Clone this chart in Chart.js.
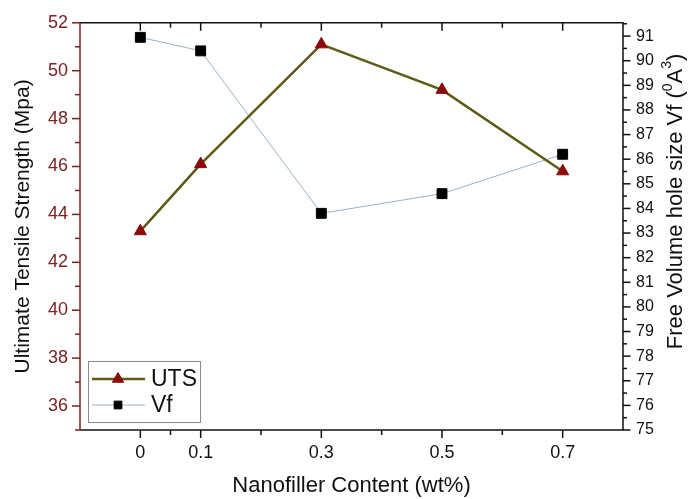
<!DOCTYPE html>
<html>
<head>
<meta charset="utf-8">
<script src="https://cdn.jsdelivr.net/npm/chart.js@4/dist/chart.umd.min.js"></script>
<style>
  html, body { margin: 0; padding: 0; background: #fff; }
  #wrap { width: 689px; height: 499px; }
</style>
</head>
<body>
<div id="wrap"><canvas id="chart" width="689" height="499"></canvas></div>
<script>
// values
const contentWt = [0, 0.1, 0.3, 0.5, 0.7];
const utsMpa = [43.3, 46.1, 51.1, 49.2, 45.8];
const vfHole = [90.95, 90.4, 83.8, 84.6, 86.2];

const xMajorTicks = [0, 0.1, 0.3, 0.5, 0.7];
const xMinorTicks = [0.05, 0.2, 0.4, 0.6];

const leftRed = '#7a2323';
const fontFamily = '"Liberation Sans", Arial, sans-serif';

function range(a, b, step) {
  const out = [];
  for (let v = a; v <= b + 1e-9; v += step) out.push(Math.round(v * 100) / 100);
  return out;
}

// frame, tick marks, right title and the legend box
const decorPlugin = {
  id: 'decor',
  afterDraw(chart) {
    const { ctx, chartArea: ca } = chart;
    const x = chart.scales.x, y = chart.scales.y, y1 = chart.scales.y1;
    ctx.save();
    ctx.lineWidth = 1.5;

    // ticks, x (bottom outward, top inward)
    ctx.strokeStyle = '#111';
    const xt = (vals, len) => vals.forEach(v => {
      const px = x.getPixelForValue(v);
      ctx.beginPath();
      ctx.moveTo(px, ca.bottom); ctx.lineTo(px, ca.bottom + len);
      ctx.moveTo(px, ca.top); ctx.lineTo(px, ca.top + len);
      ctx.stroke();
    });
    xt(xMajorTicks, 8);
    xt(xMinorTicks, 5);

    // right axis ticks
    range(75, 91.5, 0.5).forEach(v => {
      const py = y1.getPixelForValue(v);
      const len = Number.isInteger(v) ? 7.5 : 4;
      ctx.beginPath();
      ctx.moveTo(ca.right, py); ctx.lineTo(ca.right + len, py);
      ctx.stroke();
    });

    // frame
    ctx.beginPath();
    ctx.moveTo(ca.left, ca.top); ctx.lineTo(ca.right, ca.top);
    ctx.lineTo(ca.right, ca.bottom); ctx.lineTo(ca.left, ca.bottom);
    ctx.stroke();

    // left axis in red
    ctx.strokeStyle = leftRed;
    ctx.beginPath();
    ctx.moveTo(ca.left, ca.top); ctx.lineTo(ca.left, ca.bottom);
    ctx.stroke();
    range(35, 52, 1).forEach(v => {
      const py = y.getPixelForValue(v);
      const len = v % 2 === 0 ? 8 : 5;
      ctx.beginPath();
      ctx.moveTo(ca.left - len, py); ctx.lineTo(ca.left, py);
      ctx.stroke();
    });

    // right title, read bottom to top, with superscripts
    const parts = [
      ['Free Volume hole size Vf (', 22, 0],
      ['0', 14, -8],
      ['A', 22, 0],
      ['3', 14, -9],
      [')', 22, 0]
    ];
    ctx.fillStyle = '#111';
    let total = 0;
    parts.forEach(p => { ctx.font = p[1] + 'px ' + fontFamily; total += ctx.measureText(p[0]).width; });
    ctx.translate(y1.right - 13, (ca.top + ca.bottom) / 2 - 25);
    ctx.rotate(-Math.PI / 2);
    ctx.textBaseline = 'middle';
    let cx = -total / 2;
    parts.forEach(p => {
      ctx.font = p[1] + 'px ' + fontFamily;
      ctx.fillText(p[0], cx, p[2]);
      cx += ctx.measureText(p[0]).width;
    });
    ctx.setTransform(1, 0, 0, 1, 0, 0);

    // legend box
    const lx = ca.left + 8, ly = ca.bottom - 69, lw = 112, lh = 61;
    ctx.fillStyle = '#fff';
    ctx.fillRect(lx, ly, lw, lh);
    ctx.strokeStyle = '#8a8a8a';
    ctx.lineWidth = 1;
    ctx.strokeRect(lx + 0.5, ly + 0.5, lw, lh);
    chart.data.datasets.forEach((ds, i) => {
      const rowY = ly + 18 + i * 26;
      ctx.strokeStyle = ds.borderColor;
      ctx.lineWidth = ds.borderWidth;
      ctx.beginPath();
      ctx.moveTo(lx + 4, rowY); ctx.lineTo(lx + 57, rowY);
      ctx.stroke();
      ctx.fillStyle = ds.pointBackgroundColor;
      ctx.strokeStyle = ds.pointBorderColor;
      ctx.lineWidth = 1;
      Chart.helpers.drawPoint(ctx, { pointStyle: ds.pointStyle, rotation: 0, radius: i === 0 ? 6.5 : 5.5, borderWidth: 1 }, lx + 30, rowY);
      ctx.fillStyle = '#111';
      ctx.font = '23px ' + fontFamily;
      ctx.textBaseline = 'middle';
      ctx.fillText(ds.label, lx + 63, rowY + 1);
    });
    ctx.restore();
  }
};

new Chart(document.getElementById('chart'), {
  type: 'line',
  data: {
    datasets: [
      {
        label: 'UTS',
        data: contentWt.map((w, i) => ({ x: w, y: utsMpa[i] })),
        yAxisID: 'y',
        borderColor: '#5e5a16',
        borderWidth: 2.5,
        pointStyle: 'triangle',
        pointRadius: 7,
        pointBackgroundColor: '#8b0a0a',
        pointBorderColor: '#8b0a0a',
        pointBorderWidth: 1,
        tension: 0
      },
      {
        label: 'Vf',
        data: contentWt.map((w, i) => ({ x: w, y: vfHole[i] })),
        yAxisID: 'y1',
        borderColor: '#9fb0c2',
        borderWidth: 1,
        pointStyle: 'rect',
        pointRadius: 7,
        pointBackgroundColor: '#000',
        pointBorderColor: '#000',
        pointBorderWidth: 1,
        tension: 0
      }
    ]
  },
  options: {
    responsive: false,
    animation: false,
    layout: { padding: { top: 16, left: 0, right: 0, bottom: 0 } },
    plugins: { legend: { display: false }, tooltip: { enabled: false } },
    scales: {
      x: {
        type: 'linear',
        min: -0.1,
        max: 0.8,
        afterBuildTicks(scale) { scale.ticks = xMajorTicks.map(v => ({ value: v })); },
        afterFit(scale) { scale.height = 69; },
        grid: { display: false, drawTicks: false },
        border: { display: false },
        ticks: {
          padding: 12,
          color: '#111',
          font: { family: fontFamily, size: 18 },
          callback: v => String(v)
        },
        title: {
          display: true,
          text: 'Nanofiller Content (wt%)',
          color: '#111',
          font: { family: fontFamily, size: 22 },
          padding: { top: 0, bottom: 0 }
        }
      },
      y: {
        position: 'left',
        min: 35,
        max: 52,
        afterBuildTicks(scale) { scale.ticks = range(36, 52, 2).map(v => ({ value: v })); },
        afterFit(scale) { scale.width = 80; },
        grid: { display: false, drawTicks: false },
        border: { display: false },
        ticks: {
          padding: 12,
          color: leftRed,
          font: { family: fontFamily, size: 18 }
        },
        title: {
          display: true,
          text: 'Ultimate Tensile Strength (Mpa)',
          color: '#111',
          font: { family: fontFamily, size: 21 },
          padding: { top: 11, bottom: 0 }
        }
      },
      y1: {
        position: 'right',
        min: 75,
        max: 91.54,
        afterBuildTicks(scale) { scale.ticks = range(75, 91, 1).map(v => ({ value: v })); },
        afterFit(scale) { scale.width = 66; },
        grid: { display: false, drawTicks: false },
        border: { display: false },
        ticks: {
          padding: 13,
          color: '#111',
          font: { family: fontFamily, size: 16 }
        }
      }
    }
  },
  plugins: [decorPlugin]
});
</script>
</body>
</html>
